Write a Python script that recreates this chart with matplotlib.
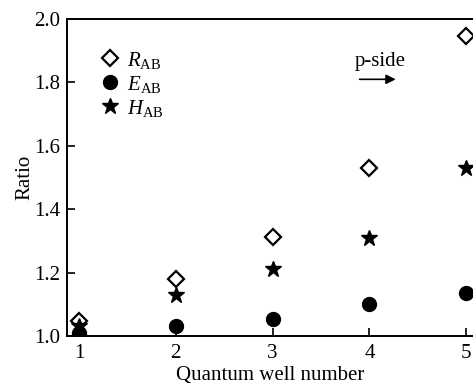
import numpy as np
import matplotlib.pyplot as plt

plt.rcParams['font.family'] = 'Liberation Serif'
plt.rcParams['mathtext.fontset'] = 'custom'
plt.rcParams['mathtext.rm'] = 'Liberation Serif'
plt.rcParams['mathtext.it'] = 'Liberation Serif:italic'

# Daten
wells = [1, 2, 3, 4, 5]
r_ab = [1.047, 1.18, 1.313, 1.53, 1.947]
e_ab = [1.01, 1.033, 1.054, 1.10, 1.136]
h_ab = [1.03, 1.13, 1.211, 1.309, 1.53]

fig = plt.figure(figsize=(4.73, 3.9), dpi=100)
ax = fig.add_axes([0.1416, 0.1385, 0.8584, 0.8125])

ax.plot(wells, r_ab, 'D', color='black', markerfacecolor='white', markeredgewidth=1.6,
        markersize=8.5, linestyle='none', label=r'$R_{\mathrm{AB}}$', zorder=3)
ax.plot(wells, e_ab, 'o', color='black', markersize=10, linestyle='none',
        label=r'$E_{\mathrm{AB}}$', zorder=3)
ax.plot(wells, h_ab, '*', color='black', markersize=12, linestyle='none',
        label=r'$H_{\mathrm{AB}}$', zorder=3)

ax.set_xlim(0.876, 5.07)
ax.set_ylim(1.0, 2.0)
ax.set_xticks(wells)
ax.set_yticks([1.0, 1.2, 1.4, 1.6, 1.8, 2.0])
ax.set_yticklabels(['1.0', '1.2', '1.4', '1.6', '1.8', '2.0'])
ax.tick_params(direction='in', length=6, width=1.2, labelsize=15, pad=5)
ax.tick_params(axis='x', pad=6)
ax.spines['right'].set_visible(False)
for s in ['left', 'bottom', 'top']:
    ax.spines[s].set_linewidth(1.4)

ax.set_xlabel('Quantum well number', fontsize=15, labelpad=2)
ax.set_ylabel('Ratio', fontsize=15, labelpad=0)

ax.legend(loc='upper left', bbox_to_anchor=(0.04, 0.95), frameon=False, fontsize=15,
          handletextpad=0.2, labelspacing=0.15, borderpad=0.2, handlelength=1.2)

ax.text(4.11, 1.835, 'p-side', fontsize=15, ha='center', va='bottom')
ax.annotate('', xy=(4.30, 1.81), xytext=(3.87, 1.81),
            arrowprops=dict(arrowstyle='-|>', color='black', lw=1.2, mutation_scale=14))

fig.savefig('out.png', dpi=100)
